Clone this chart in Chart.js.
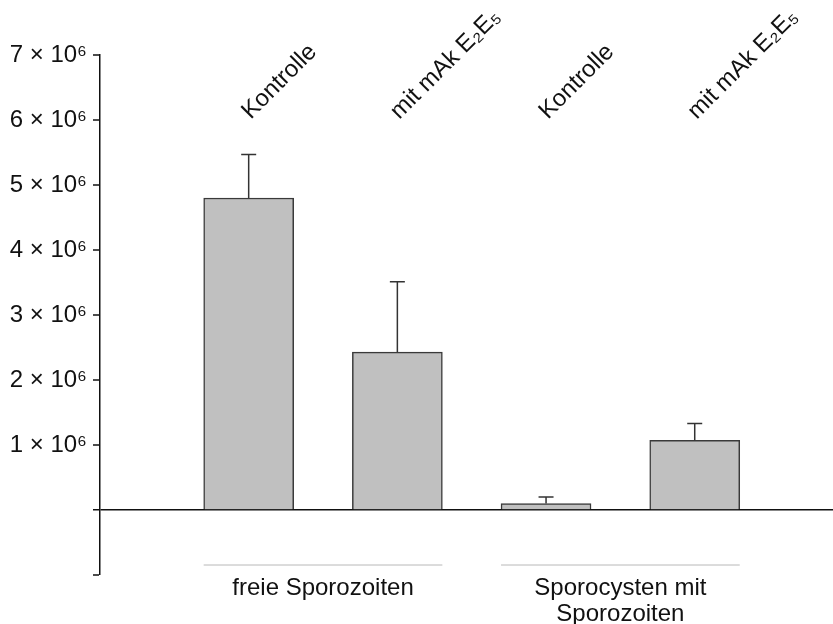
<!DOCTYPE html>
<html>
<head>
<meta charset="utf-8">
<script src="https://cdn.jsdelivr.net/npm/chart.js@4"></script>
<style>
  html, body { margin: 0; padding: 0; background: #fff; }
  canvas { display: block; }
</style>
</head>
<body>
<canvas id="c" width="833" height="624"></canvas>
<script>
// ---- data ----
const categories = ['Kontrolle', 'mit mAk E\u2082E\u2085', 'Kontrolle', 'mit mAk E\u2082E\u2085'];
const positions = [1, 2, 3, 4];
const values = [4.80e6, 2.43e6, 0.10e6, 1.07e6];
const errors = [0.67e6, 1.08e6, 0.10e6, 0.26e6];
const groupLabels = [['freie Sporozoiten'], ['Sporocysten mit', 'Sporozoiten']];
const groupMembers = [[0, 1], [2, 3]];
const yMin = -1e6, yMax = 7e6, yStep = 1e6;

const FONT = "'Liberation Sans', Arial, sans-serif";
Chart.defaults.font.family = FONT;
Chart.defaults.color = '#111';

const annot = {
  id: 'annot',
  afterDatasetsDraw(chart) {
    const ctx = chart.ctx;
    const meta = chart.getDatasetMeta(0);
    const y = chart.scales.y;
    const area = chart.chartArea;
    ctx.save();
    // error bars
    ctx.strokeStyle = '#333';
    ctx.lineWidth = 1.5;
    meta.data.forEach((bar, i) => {
      const top = y.getPixelForValue(values[i] + errors[i]);
      ctx.beginPath();
      ctx.moveTo(bar.x, bar.y);
      ctx.lineTo(bar.x, top);
      ctx.moveTo(bar.x - 7.5, top);
      ctx.lineTo(bar.x + 7.5, top);
      ctx.stroke();
    });
    // rotated category labels above bars
    ctx.fillStyle = '#111';
    ctx.font = '24px ' + FONT;
    ctx.textAlign = 'left';
    ctx.textBaseline = 'alphabetic';
    meta.data.forEach((bar, i) => {
      ctx.save();
      ctx.translate(bar.x + 2, area.top + 65);
      ctx.rotate(-Math.PI / 4);
      ctx.fillText(categories[i], 0, 0);
      ctx.restore();
    });
    // group lines and labels
    groupMembers.forEach((m, g) => {
      const b0 = meta.data[m[0]], b1 = meta.data[m[m.length - 1]];
      const x0 = b0.x - b0.width / 2, x1 = b1.x + b1.width / 2;
      const ly = area.bottom - 10;
      ctx.strokeStyle = '#b8b8b8';
      ctx.lineWidth = 1;
      ctx.beginPath();
      ctx.moveTo(x0, ly);
      ctx.lineTo(x1, ly);
      ctx.stroke();
      ctx.fillStyle = '#111';
      ctx.textAlign = 'center';
      groupLabels[g].forEach((t, k) => {
        ctx.fillText(t, (x0 + x1) / 2, area.bottom + 20 + k * 26);
      });
    });
    ctx.restore();
  }
};

new Chart(document.getElementById('c'), {
  type: 'bar',
  data: {
    datasets: [{
      data: positions.map((p, i) => ({ x: p, y: values[i] })),
      backgroundColor: '#c0c0c0',
      borderColor: '#3a3a3a',
      borderWidth: 1.5,
      barThickness: 90
    }]
  },
  options: {
    responsive: false,
    devicePixelRatio: 1,
    animation: false,
    layout: { padding: { top: 55, bottom: 49, left: 0, right: 0 } },
    plugins: { legend: { display: false }, tooltip: { enabled: false } },
    scales: {
      x: {
        type: 'linear',
        min: 0,
        max: 4.93,
        offset: false,
        display: false
      },
      y: {
        min: yMin,
        max: yMax,
        afterFit(scale) { scale.width = 100; },
        border: { display: true, color: '#111', width: 1.5 },
        grid: {
          drawOnChartArea: true,
          drawTicks: true,
          tickLength: 7,
          tickColor: '#111',
          tickWidth: 1.5,
          color: (c) => (c.tick && c.tick.value === 0 ? '#111' : 'rgba(0,0,0,0)'),
          lineWidth: (c) => (c.tick && c.tick.value === 0 ? 1.5 : 0)
        },
        ticks: {
          stepSize: yStep,
          padding: 6,
          color: '#111',
          font: { size: 24 },
          callback: (v) => (v >= 1e6 ? `${Math.round(v / 1e6)} × 10\u2076` : '')
        }
      }
    }
  },
  plugins: [annot]
});
</script>
</body>
</html>
